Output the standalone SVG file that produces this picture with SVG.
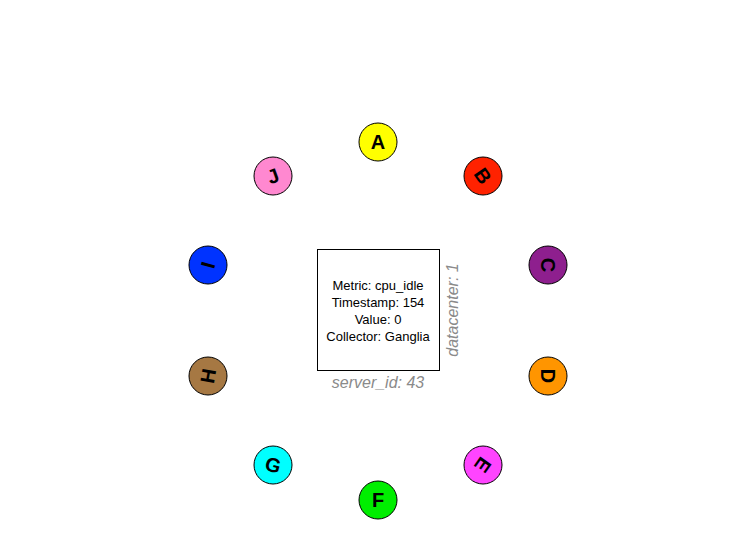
<svg xmlns="http://www.w3.org/2000/svg" width="756" height="553" viewBox="0 0 756 553">
<style>
.n circle{stroke:#000;stroke-width:1}
.n text{font-family:"Liberation Sans",Arial,sans-serif;font-weight:bold;font-size:20px;text-anchor:middle;dominant-baseline:central}
.box{fill:#fff;stroke:#000;stroke-width:1}
.t{font-family:"Liberation Sans",Arial,sans-serif;font-size:13px;text-anchor:middle}
.lab{font-family:"Liberation Sans",Arial,sans-serif;font-size:16px;font-style:italic;fill:#8a8a8a;text-anchor:middle}
</style>
<rect width="756" height="553" fill="#fff"/>
<g id="connectors"></g>
<g id="A" class="n"><circle cx="378" cy="142" r="19" fill="#ffff00"/><text x="378" y="142">A</text></g>
<g id="B" class="n"><circle cx="483" cy="176" r="19" fill="#ff2200"/><text x="483" y="176" transform="rotate(55 483 176)">B</text></g>
<g id="C" class="n"><circle cx="548" cy="265" r="19" fill="#8e1f8e"/><text x="548" y="265" transform="rotate(90 548 265)">C</text></g>
<g id="D" class="n"><circle cx="548" cy="376" r="19" fill="#ff9500"/><text x="548" y="376" transform="rotate(90 548 376)">D</text></g>
<g id="E" class="n"><circle cx="483" cy="465" r="19" fill="#ff44ff"/><text x="483" y="465" transform="rotate(125 483 465)">E</text></g>
<g id="F" class="n"><circle cx="378" cy="500" r="19" fill="#00ee00"/><text x="378" y="500">F</text></g>
<g id="G" class="n"><circle cx="273" cy="465" r="19" fill="#00ffff"/><text x="273" y="465" transform="rotate(15 273 465)">G</text></g>
<g id="H" class="n"><circle cx="208" cy="376" r="19" fill="#a67843"/><text x="208" y="376" transform="rotate(-80 208 376)">H</text></g>
<g id="I" class="n"><circle cx="208" cy="265" r="19" fill="#0033ff"/><text x="208" y="265" transform="rotate(-75 208 265)">I</text></g>
<g id="J" class="n"><circle cx="273" cy="176" r="19" fill="#ff88d0"/><text x="273" y="176" transform="rotate(-20 273 176)">J</text></g>
<g id="record">
<rect class="box" x="317.5" y="249.5" width="122" height="121"/>
<text class="t" x="378" y="290">Metric: cpu_idle</text>
<text class="t" x="378" y="307">Timestamp: 154</text>
<text class="t" x="378" y="324">Value: 0</text>
<text class="t" x="378" y="341">Collector: Ganglia</text>
<text class="lab" x="378" y="388">server_id: 43</text>
<text class="lab" x="458" y="310" transform="rotate(-90 458 310)">datacenter: 1</text>
</g>
</svg>
